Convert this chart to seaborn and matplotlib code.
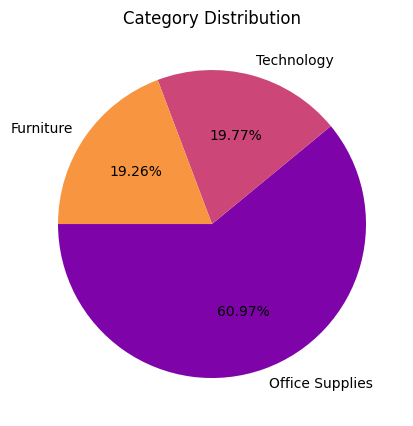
import matplotlib
matplotlib.use("Agg")
import matplotlib.pyplot as plt
import seaborn as sns

# ============================================================
# Data
# ============================================================

categories = ["Office Supplies", "Technology", "Furniture"]
shares = [60.97, 19.77, 19.26]

colors = sns.color_palette("plasma", len(categories))

# ============================================================
# Plot
# ============================================================

fig = plt.figure(figsize=(4.14, 4.27), dpi=100)
ax = fig.add_axes([0.0471, 0.0222, 0.930, 0.9016])

ax.pie(
    shares,
    labels=categories,
    colors=colors,
    autopct="%.2f%%",
    startangle=180,
)
ax.set_xlim(-1.25, 1.25)
ax.set_ylim(-1.25, 1.25)
ax.set_aspect("equal")
ax.set_title("Category Distribution")

fig.savefig("out.png", dpi=100)
